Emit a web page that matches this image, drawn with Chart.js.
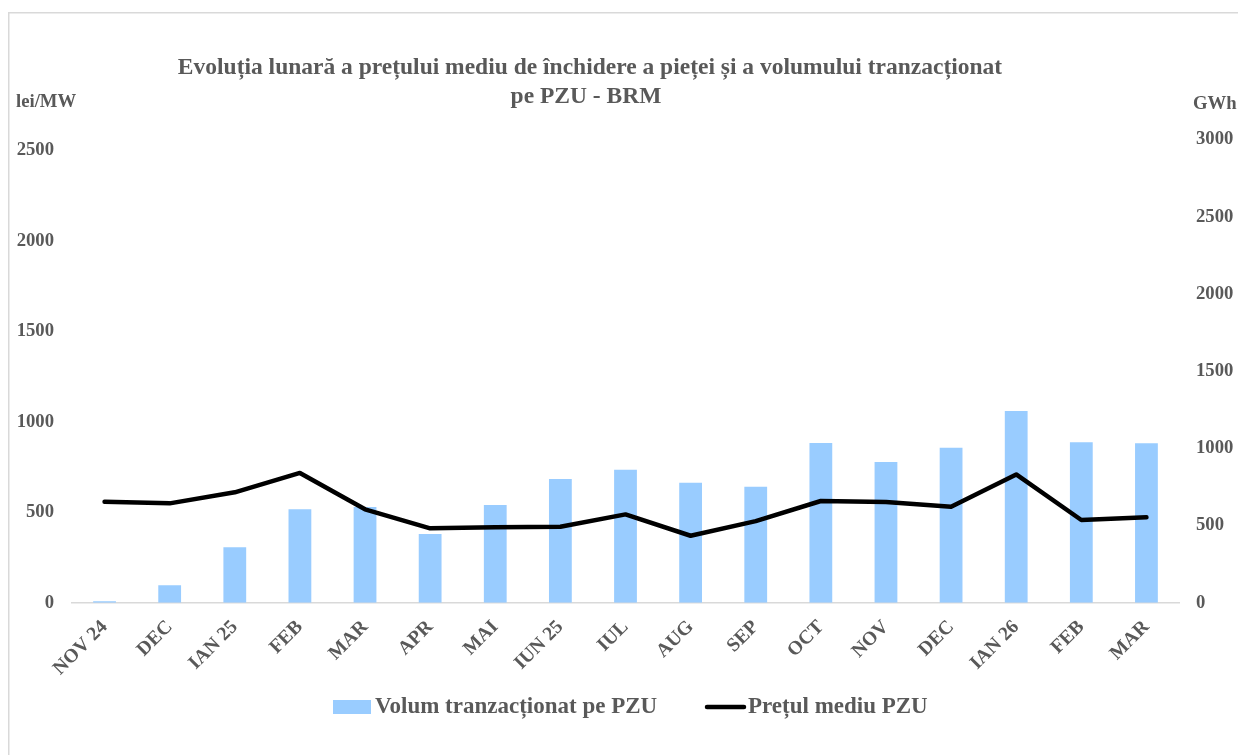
<!DOCTYPE html>
<html lang="ro">
<head>
<meta charset="UTF-8">
<title>Evoluția lunară PZU - BRM</title>
<script src="https://cdn.jsdelivr.net/npm/chart.js"></script>
<style>
  body { margin: 0; background: #ffffff; }
  #wrap { position: relative; width: 1238px; height: 755px; }
</style>
</head>
<body>
<div id="wrap"><canvas id="pzuChart" width="1238" height="755"></canvas></div>

<script>
  // --- data ---
  const months = ['NOV 24', 'DEC', 'IAN 25', 'FEB', 'MAR', 'APR', 'MAI', 'IUN 25', 'IUL',
                  'AUG', 'SEP', 'OCT', 'NOV', 'DEC', 'IAN 26', 'FEB', 'MAR'];
  const volumeGWh = [10, 113, 359, 605, 620, 445, 633, 801, 861, 777, 751, 1034, 911, 1004, 1242, 1039, 1032];
  const priceLei = [558, 549, 610, 717, 516, 411, 417, 420, 488, 370, 451, 562, 556, 530, 709, 457, 472];

  const leftTicks = [0, 500, 1000, 1500, 2000, 2500];
  const rightTicks = [0, 500, 1000, 1500, 2000, 2500, 3000];

  const titleLines = ['Evoluția lunară a prețului mediu de închidere a pieței și a volumului tranzacționat',
                      'pe PZU - BRM'];
  const leftUnit = 'lei/MW';
  const rightUnit = 'GWh';

  const serif = "'Liberation Serif', 'Times New Roman', serif";
  const grey = '#595959';
  Chart.defaults.font.family = serif;
  Chart.defaults.color = grey;

  // frame, title, units and legend
  const decor = {
    id: 'decor',
    beforeDraw(chart) {
      const c = chart.ctx;
      c.save();
      c.fillStyle = '#ffffff';
      c.fillRect(0, 0, chart.width, chart.height);
      c.strokeStyle = '#d9d9d9';
      c.lineWidth = 1.5;
      c.beginPath();
      c.moveTo(8.75, chart.height);
      c.lineTo(8.75, 12.75);
      c.lineTo(chart.width, 12.75);
      c.stroke();
      c.restore();
    },
    afterDraw(chart) {
      const c = chart.ctx;
      c.save();
      c.fillStyle = grey;
      c.textBaseline = 'middle';
      c.font = 'bold 23.5px ' + serif;
      c.textAlign = 'center';
      c.fillText(titleLines[0], 590, 68);
      c.fillText(titleLines[1], 586, 97);

      c.font = 'bold 18.7px ' + serif;
      c.textAlign = 'left';
      c.fillText(leftUnit, 16, 102);
      c.fillText(rightUnit, 1193, 104);

      // legend
      const ds = chart.data.datasets;
      const ly = 707;
      c.font = 'bold 23px ' + serif;
      c.fillStyle = ds[0].backgroundColor;
      c.fillRect(333, ly - 7, 38, 14);
      c.fillStyle = grey;
      c.fillText(ds[0].label, 375, ly);
      c.strokeStyle = ds[1].borderColor;
      c.lineWidth = 4.5;
      c.lineCap = 'round';
      c.beginPath();
      c.moveTo(707, ly);
      c.lineTo(744, ly);
      c.stroke();
      c.fillText(ds[1].label, 748, ly);
      c.restore();
    }
  };

  const ctx = document.getElementById('pzuChart').getContext('2d');
  const pzuChart = new Chart(ctx, {
    data: {
      labels: months,
      datasets: [{
        type: 'bar',
        label: 'Volum tranzacționat pe PZU',
        data: volumeGWh,
        yAxisID: 'yRight',
        backgroundColor: '#99ccff',
        barPercentage: 0.35,
        categoryPercentage: 1,
        order: 1
      }, {
        type: 'line',
        label: 'Prețul mediu PZU',
        data: priceLei,
        yAxisID: 'yLeft',
        borderColor: '#000000',
        borderWidth: 4.5,
        borderCapStyle: 'round',
        borderJoinStyle: 'round',
        pointRadius: 0,
        tension: 0,
        order: 0
      }]
    },
    options: {
      responsive: false,
      animation: false,
      layout: { padding: { top: 139.5, left: 0, right: 0, bottom: 0 } },
      plugins: {
        legend: { display: false },
        title: { display: false },
        tooltip: { enabled: false }
      },
      scales: {
        x: {
          grid: { display: false, drawTicks: false },
          border: { display: true, color: '#d9d9d9', width: 1.5 },
          ticks: {
            font: { size: 19.5, weight: 'bold' },
            maxRotation: 45,
            minRotation: 45,
            padding: 13,
            autoSkip: false
          },
          afterFit(scale) { scale.height = 152.3; }
        },
        yLeft: {
          position: 'left',
          min: 0,
          max: 2560,
          grid: { display: false, drawTicks: false },
          border: { display: false },
          ticks: { padding: 18, font: { size: 18.7, weight: 'bold' }, callback: v => String(v) },
          afterBuildTicks(scale) { scale.ticks = leftTicks.map(v => ({ value: v })); },
          afterFit(scale) { scale.width = 72; }
        },
        yRight: {
          position: 'right',
          min: 0,
          max: 3000,
          grid: { display: false, drawTicks: false },
          border: { display: false },
          ticks: { padding: 17, font: { size: 18.7, weight: 'bold' }, callback: v => String(v) },
          afterBuildTicks(scale) { scale.ticks = rightTicks.map(v => ({ value: v })); },
          afterFit(scale) { scale.width = 59; }
        }
      }
    },
    plugins: [decor]
  });
</script>
</body>
</html>
